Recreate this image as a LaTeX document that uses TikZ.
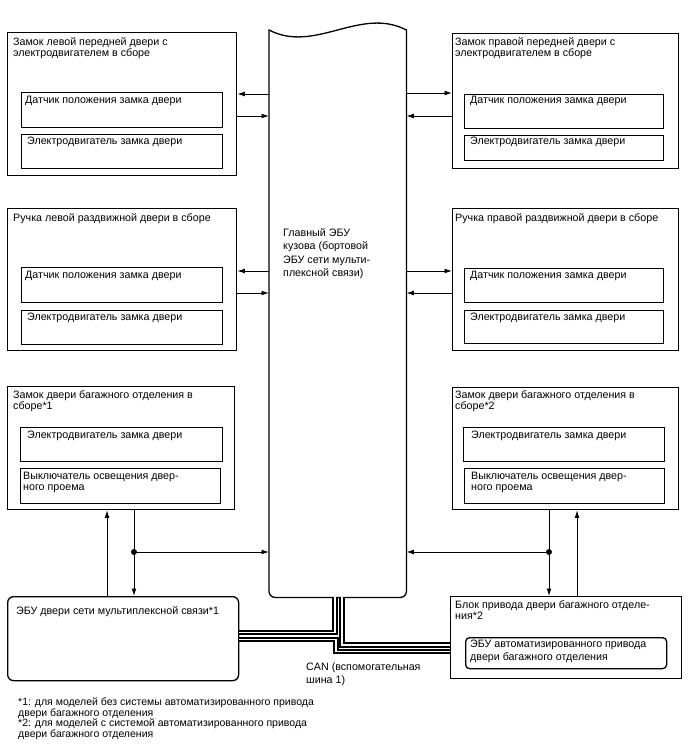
\documentclass[tikz,border=0pt]{standalone}
\usepackage{fontspec}
\setmainfont{Liberation Sans}
\usetikzlibrary{arrows.meta}
\begin{document}
\begin{tikzpicture}[x=1pt,y=-1pt,
  box/.style={draw, line width=1.3pt, inner sep=0pt, anchor=north west, rectangle},
  lbl/.style={anchor=base west, align=left, inner sep=0pt, font=\fontsize{10.7}{11.5}\selectfont},
  arr/.style={line width=0.9pt, -{Latex[length=7.5pt,width=4.8pt]}},
  can/.style={line width=1.8pt, double=white, double distance=1.5pt},
  dot/.style={circle, fill, inner sep=0pt, minimum size=6pt}
]
\useasboundingbox (0,0) rectangle (688,755);
% central ECU
\node[inner sep=0pt, anchor=north west, minimum width=137pt, minimum height=567pt] (ecu) at (269,30) {};
\draw[line width=1.3pt, line cap=round] (ecu.north west) .. controls (315,54) and (360,6) .. (ecu.north east);
\draw[line width=1.3pt, line cap=round, rounded corners=6pt] (ecu.north west) -- (ecu.south west) -- (ecu.south east) -- (ecu.north east);
\node[lbl, font=\fontsize{10.7}{13.2}\selectfont] (ecut) at (283,276.3) {Главный ЭБУ\\кузова (бортовой\\ЭБУ сети мульти-\\плексной связи)};

% top left
\node[box, minimum width=229pt, minimum height=143pt] (tl) at (7,32) {};
\node[box, minimum width=201pt, minimum height=35pt] (tl1) at (21,92) {};
\node[box, minimum width=201pt, minimum height=34pt] (tl2) at (21,134) {};
\node[lbl] (tlt) at (13,56.5) {Замок левой передней двери с\\электродвигателем в сборе};
\node[lbl] (tl1t) at (25,103) {Датчик положения замка двери};
\node[lbl] (tl2t) at (27,144) {Электродвигатель замка двери};
% top right
\node[box, minimum width=226pt, minimum height=135pt] (tr) at (452,33) {};
\node[box, minimum width=199pt, minimum height=34pt] (tr1) at (464,94) {};
\node[box, minimum width=199pt, minimum height=25pt] (tr2) at (464,135) {};
\node[lbl] (trt) at (455,56.5) {Замок правой передней двери с\\электродвигателем в сборе};
\node[lbl] (tr1t) at (470,103) {Датчик положения замка двери};
\node[lbl] (tr2t) at (470,144) {Электродвигатель замка двери};
% middle left
\node[box, minimum width=229pt, minimum height=142pt] (ml) at (7,208) {};
\node[box, minimum width=201pt, minimum height=35pt] (ml1) at (21,267) {};
\node[box, minimum width=201pt, minimum height=34pt] (ml2) at (21,310) {};
\node[lbl] (mlt) at (13,221) {Ручка левой раздвижной двери в сборе};
\node[lbl] (ml1t) at (25,278) {Датчик положения замка двери};
\node[lbl] (ml2t) at (27,320) {Электродвигатель замка двери};
% middle right
\node[box, minimum width=226pt, minimum height=142pt] (mr) at (452,208) {};
\node[box, minimum width=199pt, minimum height=34pt] (mr1) at (464,268) {};
\node[box, minimum width=199pt, minimum height=33pt] (mr2) at (464,310) {};
\node[lbl] (mrt) at (455,221) {Ручка правой раздвижной двери в сборе};
\node[lbl] (mr1t) at (470,278) {Датчик положения замка двери};
\node[lbl] (mr2t) at (470,320) {Электродвигатель замка двери};
% lower left
\node[box, minimum width=227pt, minimum height=123pt] (ll) at (7,386) {};
\node[box, minimum width=202pt, minimum height=34pt] (ll1) at (20,427) {};
\node[box, minimum width=200pt, minimum height=35pt] (ll2) at (20,468) {};
\node[lbl] (llt) at (13,409.5) {Замок двери багажного отделения в\\сборе*1};
\node[lbl] (ll1t) at (27,438) {Электродвигатель замка двери};
\node[lbl] (ll2t) at (23,490.5) {Выключатель освещения двер-\\ного проема};
% lower right
\node[box, minimum width=226pt, minimum height=122pt] (lr) at (452,387) {};
\node[box, minimum width=201pt, minimum height=34pt] (lr1) at (463,427) {};
\node[box, minimum width=200pt, minimum height=35pt] (lr2) at (464,468) {};
\node[lbl] (lrt) at (455,409.5) {Замок двери багажного отделения в\\сборе*2};
\node[lbl] (lr1t) at (471,438) {Электродвигатель замка двери};
\node[lbl] (lr2t) at (471,490.5) {Выключатель освещения двер-\\ного проема};
% door ECU
\node[box, rounded corners=6pt, minimum width=231pt, minimum height=84pt] (door) at (7,596) {};
\node[lbl] (doort) at (16,614) {ЭБУ двери сети мультиплексной связи*1};
% block
\node[box, minimum width=231pt, minimum height=82pt] (block) at (450,596) {};
\node[box, rounded corners=4pt, minimum width=201pt, minimum height=31pt] (bi) at (465,637) {};
\node[lbl] (blockt) at (455,619.5) {Блок привода двери багажного отделе-\\ния*2};
\node[lbl, font=\fontsize{10.7}{12.5}\selectfont] (bit) at (470,660) {ЭБУ автоматизированного привода\\двери багажного отделения};

% arrows top
\draw[arr] (ecu.west |- 0,94) -- (tl.east |- 0,94);
\draw[arr] (tl.east |- 0,116) -- (ecu.west |- 0,116);
\draw[arr] (ecu.east |- 0,93) -- (tr.west |- 0,93);
\draw[arr] (tr.west |- 0,116) -- (ecu.east |- 0,116);
% arrows middle
\draw[arr] (ecu.west |- 0,271) -- (ml.east |- 0,271);
\draw[arr] (ml.east |- 0,293) -- (ecu.west |- 0,293);
\draw[arr] (ecu.east |- 0,271) -- (mr.west |- 0,271);
\draw[arr] (mr.west |- 0,293) -- (ecu.east |- 0,293);
% lower connections
\node[dot] (dl) at (134,552) {};
\node[dot] (dr) at (549,552) {};
\draw[arr] (door.north -| 107,0) -- (ll.south -| 107,0);
\draw[arr] (ll.south -| dl) -- (door.north -| dl);
\draw[arr] (dl.center) -- (ecu.west |- dl);
\draw[arr] (lr.south -| dr) -- (block.north -| dr);
\draw[arr] (dr.center) -- (ecu.east |- dr);
\draw[arr] (block.north -| 577,0) -- (lr.south -| 577,0);

% CAN cables
\draw[can] (door.east |- 0,632.5) -- (335,632.5) -- (ecu.south -| 335,0);
\draw[can] (door.east |- 0,639.5) -- (336,639.5) -- (336,651.5) -- (block.west |- 0,651.5);
\draw[can] (ecu.south -| 342,0) -- (342,645) -- (block.west |- 0,645);
\node[lbl, font=\fontsize{10.7}{12.6}\selectfont] (cant) at (306,683.3) {CAN (вспомогательная\\шина 1)};

% footnotes
\node[lbl, font=\fontsize{10.5}{10.5}\selectfont] (notes) at (18,737.2) {*1: для моделей без системы автоматизированного привода\\двери багажного отделения\\*2: для моделей с системой автоматизированного привода\\двери багажного отделения};
\end{tikzpicture}
\end{document}
